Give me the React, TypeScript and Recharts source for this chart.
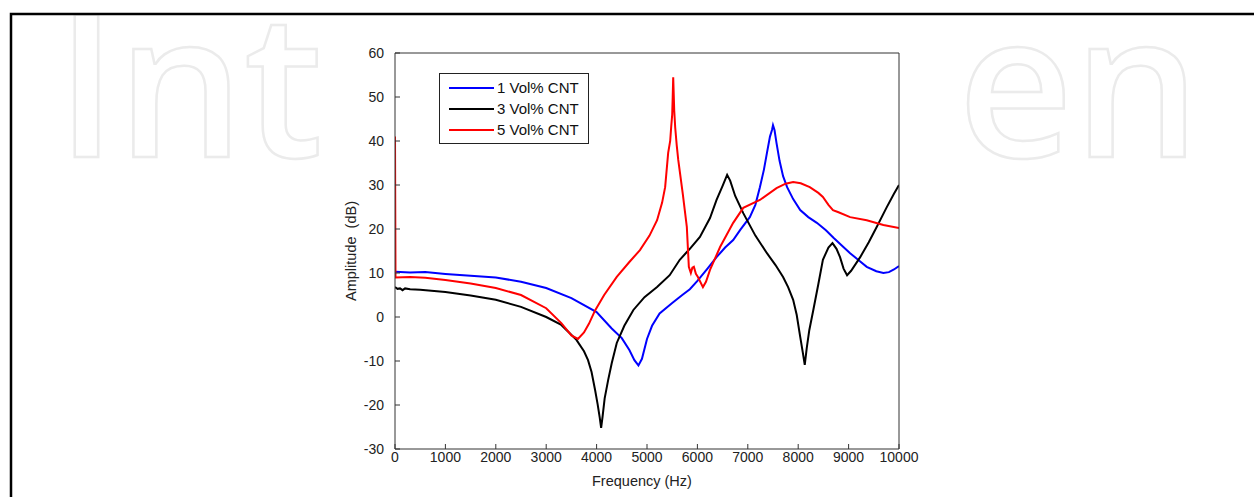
import React from 'react';
import { LineChart, Line, XAxis, YAxis } from 'recharts';

// frequency (Hz) / amplitude (dB)
const blueFreq = [0, 300, 600, 1000, 1500, 2000, 2500, 3000, 3500, 4000, 4300, 4500, 4650, 4750, 4830, 4900, 5000, 5100, 5250, 5500, 5700, 5850, 6000, 6200, 6380, 6550, 6710, 6850, 7040, 7150, 7240, 7320, 7380, 7440, 7480, 7500, 7530, 7570, 7630, 7700, 7780, 7900, 8040, 8200, 8370, 8550, 8700, 8870, 9030, 9200, 9360, 9550, 9690, 9800, 9900, 10000];
const blueAmp = [10.3, 10.1, 10.2, 9.8, 9.4, 9.0, 8.0, 6.6, 4.3, 1.1, -2.6, -4.8, -7.5, -9.8, -11.0, -9.5, -5.0, -2.0, 0.8, 3.2, 5.0, 6.3, 8.2, 11.0, 13.6, 15.8, 17.5, 19.8, 22.7, 25.5, 29.5, 33.5, 37.3, 41.0, 42.5, 43.6, 42.5, 39.5, 35.5, 32.0, 29.5, 26.8, 24.3, 22.7, 21.4, 19.7, 18.0, 16.2, 14.5, 12.9, 11.4, 10.4, 10.0, 10.2, 10.8, 11.6];

const blackFreq = [0, 50, 100, 150, 200, 300, 500, 1000, 1500, 2000, 2500, 3000, 3300, 3600, 3750, 3830, 3900, 3970, 4020, 4060, 4090, 4120, 4160, 4230, 4300, 4400, 4550, 4730, 4950, 5200, 5450, 5650, 5850, 6050, 6250, 6380, 6500, 6590, 6650, 6750, 6910, 7150, 7380, 7550, 7700, 7800, 7900, 7970, 8040, 8090, 8130, 8170, 8220, 8300, 8400, 8490, 8600, 8680, 8760, 8830, 8900, 8970, 9050, 9230, 9400, 9560, 9750, 9900, 10000];
const blackAmp = [6.8, 6.4, 6.5, 6.1, 6.5, 6.3, 6.2, 5.7, 4.9, 3.9, 2.3, 0.0, -1.8, -5.2, -7.8, -9.8, -12.5, -16.6, -19.8, -22.7, -25.2, -22.5, -18.5, -14.3, -10.5, -5.9, -2.0, 1.6, 4.5, 6.8, 9.5, 13.0, 15.5, 18.2, 22.5, 26.6, 29.8, 32.3, 31.0, 27.5, 23.6, 18.5, 14.5, 11.8, 9.1, 6.8, 3.9, 0.5, -4.5, -8.0, -10.9, -7.0, -3.0, 1.6, 7.5, 13.0, 15.8, 16.8, 15.5, 13.6, 11.0, 9.5, 10.5, 13.6, 17.0, 20.5, 24.8, 28.0, 30.0];

const redFreq = [0, 10, 300, 600, 1000, 1500, 2000, 2500, 3000, 3300, 3500, 3630, 3750, 3850, 3970, 4150, 4400, 4650, 4860, 5050, 5200, 5300, 5360, 5420, 5460, 5480, 5500, 5510, 5520, 5540, 5560, 5590, 5620, 5710, 5790, 5830, 5870, 5900, 5930, 5970, 6010, 6110, 6170, 6250, 6450, 6710, 6910, 7240, 7570, 7750, 7900, 8050, 8230, 8400, 8490, 8600, 8690, 8800, 9030, 9360, 9690, 10000];
const redAmp = [41, 9.0, 9.1, 8.9, 8.4, 7.6, 6.6, 5.0, 2.0, -1.4, -4.2, -5.0, -3.5, -1.5, 1.5, 5.0, 9.1, 12.5, 15.2, 18.5, 22.0, 26.0, 29.5, 37.3, 40.0, 43.2, 46.0, 50.0, 54.5, 47.0, 43.0, 39.0, 35.7, 28.0, 20.5, 11.4, 10.0, 11.2, 11.4, 9.8, 9.1, 6.8, 8.0, 10.7, 15.9, 21.4, 24.8, 26.6, 29.3, 30.3, 30.7, 30.4, 29.5, 28.2, 27.3, 25.5, 24.3, 23.8, 22.7, 22.0, 20.9, 20.2];

const xTicks = [0, 1000, 2000, 3000, 4000, 5000, 6000, 7000, 8000, 9000, 10000];
const yTicks = [-30, -20, -10, 0, 10, 20, 30, 40, 50, 60];

const series = [
  { name: '1 Vol% CNT', color: '#0000ff', freq: blueFreq, amp: blueAmp },
  { name: '3 Vol% CNT', color: '#000000', freq: blackFreq, amp: blackAmp },
  { name: '5 Vol% CNT', color: '#ff0000', freq: redFreq, amp: redAmp },
];

const toRows = (f: number[], a: number[]) => f.map((v, i) => ({ f: v, amp: a[i] }));

const FONT = '"Liberation Sans", Arial, sans-serif';
const AXIS = '#333';
const TICK = 5;

const LeftTick = ({ x, y, payload }: any) => (
  <g>
    <text x={x} y={y} dy="0.35em" textAnchor="end" fontSize={14} fontFamily={FONT} fill="#222">{payload.value}</text>
    <line x1={x + 11} x2={x + 11 + TICK} y1={y} y2={y} stroke={AXIS} />
  </g>
);

const BottomTick = ({ x, y, payload }: any) => (
  <g>
    <text x={x} y={y + 9} textAnchor="middle" fontSize={14} fontFamily={FONT} fill="#222">{payload.value}</text>
    <line x1={x} x2={x} y1={y - 4} y2={y - 4 - TICK} stroke={AXIS} />
  </g>
);

const RightTick = ({ x, y }: any) => <line x1={x - TICK} x2={x} y1={y} y2={y} stroke={AXIS} />;
const TopTick = ({ x, y }: any) => <line x1={x} x2={x} y1={y} y2={y + TICK} stroke={AXIS} />;

const LegendBox = () => (
  <div style={{ position: 'absolute', left: 439, top: 73, border: '1px solid #222', background: '#fff', width: 148, padding: '3px 0', fontFamily: FONT, fontSize: 15 }}>
    {series.map((s) => (
      <div key={s.name} style={{ display: 'flex', alignItems: 'center', height: 21 }}>
        <div style={{ width: 45, height: 2, background: s.color, marginLeft: 9, marginRight: 3 }} />
        <span style={{ color: '#111' }}>{s.name}</span>
      </div>
    ))}
  </div>
);

export default function App() {
  return (
    <div style={{ position: 'absolute', left: 0, top: 0, width: 1254, height: 497, background: '#fff', overflow: 'hidden' }}>
      <svg width={1254} height={497} style={{ position: 'absolute', left: 0, top: 0 }}>
        <g fill="none" stroke="#ebebeb" strokeWidth={2.5} fontFamily='"Open Sans", sans-serif' fontWeight={600} fontSize={200}>
          <text x={56} y={157}>Int</text>
          <text x={958} y={157}>en</text>
        </g>
        <path d="M11 497 L11 14 L1254 14" fill="none" stroke="#000" strokeWidth={2.5} />
      </svg>
      <div style={{ position: 'absolute', left: 0, top: 0 }}>
        <LineChart width={1254} height={497} margin={{ top: 43, right: 345, bottom: 18, left: 345 }}>
          <XAxis dataKey="f" type="number" domain={[0, 10000]} ticks={xTicks} allowDataOverflow
            height={30} tickSize={0} tickMargin={4} tickLine={false} stroke={AXIS} tick={<BottomTick />} interval={0} />
          <XAxis xAxisId="top" orientation="top" dataKey="f" type="number" domain={[0, 10000]} ticks={xTicks}
            height={10} tickSize={0} tickMargin={0} tickLine={false} stroke={AXIS} tick={<TopTick />} interval={0} />
          <YAxis type="number" domain={[-30, 60]} ticks={yTicks} allowDataOverflow width={50}
            tickSize={0} tickMargin={11} tickLine={false} stroke={AXIS} tick={<LeftTick />} interval={0} />
          <YAxis yAxisId="right" orientation="right" type="number" domain={[-30, 60]} ticks={yTicks} width={10}
            tickSize={0} tickMargin={0} tickLine={false} stroke={AXIS} tick={<RightTick />} interval={0} />
          {series.map((s) => (
            <Line key={s.name} data={toRows(s.freq, s.amp)} dataKey="amp" name={s.name} type="linear"
              stroke={s.color} strokeWidth={2} dot={false} isAnimationActive={false} />
          ))}
        </LineChart>
      </div>
      <LegendBox />
      <div style={{ position: 'absolute', left: 592, top: 473, fontFamily: FONT, fontSize: 14.5, color: '#222' }}>Frequency (Hz)</div>
      <div style={{ position: 'absolute', left: 351, top: 251, transform: 'translate(-50%, -50%) rotate(-90deg)', fontFamily: FONT, fontSize: 14.5, color: '#222', whiteSpace: 'pre' }}>Amplitude  (dB)</div>
    </div>
  );
}
